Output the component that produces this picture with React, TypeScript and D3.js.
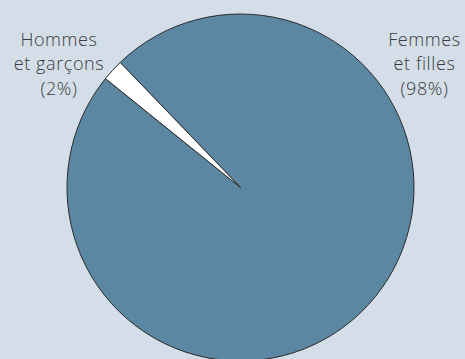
import React from "react";
import * as d3 from "d3";

const categories = ["Femmes et filles", "Hommes et garçons"];
const values = [98, 2];
const labelLines = [
  ["Femmes", "et filles", "(98%)"],
  ["Hommes", "et garçons", "(2%)"],
];
const colors = ["#5b87a2", "#ffffff"];

const W = 465;
const H = 359;

export default function App() {
  const cx = 240.5;
  const cy = 187.5;
  const r = 173.5;
  const start = (-43.9 * Math.PI) / 180;
  const pie = d3
    .pie<number>()
    .sort(null)
    .value((d) => d)
    .startAngle(start)
    .endAngle(start + 2 * Math.PI);
  const arcs = pie(values);
  const arc = d3.arc<d3.PieArcDatum<number>>().innerRadius(0).outerRadius(r);
  const labelPos = [
    { x: 424.5, y: 45.5 },
    { x: 59, y: 45.5 },
  ];
  const lineH = 24.5;
  return (
    <svg
      width={W}
      height={H}
      style={{ position: "absolute", left: 0, top: 0 }}
    >
      <rect width={W} height={H} fill="#d4dee9" />
      <g transform={`translate(${cx},${cy})`}>
        {arcs.map((a, i) => (
          <path
            key={categories[i]}
            d={arc(a) || ""}
            fill={colors[i]}
            stroke="#2b2b2b"
            strokeWidth={1}
            strokeLinejoin="round"
          />
        ))}
      </g>
      {labelLines.map((lines, i) => (
        <g key={categories[i]}>
          {lines.map((l, j) => (
            <text
              key={j}
              x={labelPos[i].x}
              y={labelPos[i].y + j * lineH}
              textAnchor="middle"
              fontFamily="'Open Sans', sans-serif"
              fontWeight={300}
              fontSize={18}
              letterSpacing={0.6}
              fill="#3a3a3a"
            >
              {l}
            </text>
          ))}
        </g>
      ))}
    </svg>
  );
}
